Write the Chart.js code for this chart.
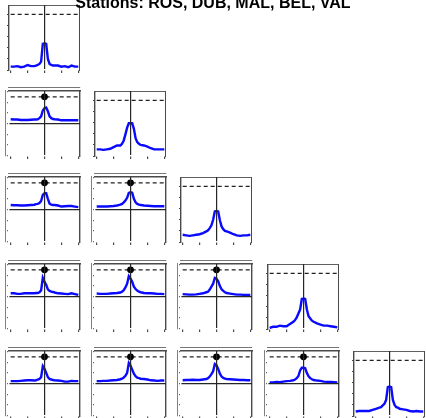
<!DOCTYPE html>
<html>
<head>
<meta charset="utf-8">
<script src="https://cdn.jsdelivr.net/npm/chart.js@4.4.1/dist/chart.umd.min.js"></script>
<style>
	html, body { margin: 0; padding: 0; background: #fff; overflow: hidden }
	#page { position: relative; width: 426px; height: 418px; overflow: hidden }
	#title { position: absolute; left: 0; top: -5.5px; width: 426px; text-align: center; white-space: nowrap;
		font: bold 16px/16px "Liberation Sans", Arial, sans-serif; color: #000; z-index: 5 }
	canvas { position: absolute }
</style>
</head>
<body>
<div id="page">
	<div id="title">Stations: ROS, DUB, MAL, BEL, VAL</div>
</div>
<script>
const stations = ['ROS', 'DUB', 'MAL', 'BEL', 'VAL']
const lags = [-20, -18, -16, -14, -12, -10, -8, -6, -5, -4, -3, -2, -1, 0, 1, 2, 3, 4, 5, 6, 8, 10, 12, 14, 16, 18, 20]
const lagTicks = [-20, -10, 0, 10, 20]
const autoTicks = [0, 0.2, 0.4, 0.6, 0.8, 1]
const crossTicks = [-1.2, -0.8, -0.4, 0, 0.4, 0.8, 1.2]
const refLevel = 1

// diagonal
const rosRos = [0.06, 0.06, 0.07, 0.05, 0.06, 0.09, 0.07, 0.07, 0.08, 0.09, 0.11, 0.15, 0.47, 0.48, 0.47, 0.20, 0.11, 0.09, 0.08, 0.08, 0.08, 0.06, 0.07, 0.05, 0.08, 0.06, 0.06]
const dubDub = [0.12, 0.12, 0.11, 0.12, 0.13, 0.16, 0.19, 0.19, 0.22, 0.28, 0.39, 0.51, 0.59, 0.59, 0.59, 0.49, 0.32, 0.25, 0.22, 0.20, 0.19, 0.17, 0.14, 0.12, 0.12, 0.12, 0.12]
const malMal = [0.13, 0.12, 0.11, 0.12, 0.13, 0.14, 0.16, 0.19, 0.21, 0.25, 0.30, 0.40, 0.55, 0.56, 0.55, 0.39, 0.28, 0.23, 0.20, 0.19, 0.17, 0.14, 0.12, 0.11, 0.12, 0.12, 0.13]
const belBel = [0.02, 0.04, 0.04, 0.06, 0.05, 0.05, 0.09, 0.13, 0.16, 0.21, 0.28, 0.35, 0.54, 0.55, 0.54, 0.35, 0.23, 0.19, 0.15, 0.13, 0.10, 0.08, 0.06, 0.06, 0.05, 0.04, 0.03]
const valVal = [0.08, 0.09, 0.09, 0.09, 0.09, 0.11, 0.13, 0.15, 0.16, 0.19, 0.22, 0.29, 0.52, 0.53, 0.52, 0.29, 0.20, 0.16, 0.15, 0.13, 0.12, 0.11, 0.09, 0.08, 0.09, 0.08, 0.08]

// off diagonal
const dubRos = [0.16, 0.15, 0.15, 0.13, 0.13, 0.13, 0.14, 0.15, 0.15, 0.16, 0.20, 0.27, 0.49, 0.57, 0.60, 0.46, 0.27, 0.20, 0.17, 0.16, 0.15, 0.12, 0.12, 0.12, 0.12, 0.12, 0.12]
const malRos = [0.17, 0.16, 0.16, 0.15, 0.15, 0.16, 0.17, 0.18, 0.20, 0.21, 0.24, 0.32, 0.55, 0.61, 0.61, 0.40, 0.22, 0.18, 0.17, 0.17, 0.15, 0.11, 0.12, 0.13, 0.13, 0.11, 0.09]
const malDub = [0.11, 0.11, 0.11, 0.11, 0.12, 0.13, 0.15, 0.18, 0.21, 0.27, 0.34, 0.44, 0.62, 0.65, 0.63, 0.40, 0.27, 0.21, 0.18, 0.17, 0.15, 0.14, 0.13, 0.12, 0.12, 0.12, 0.12]
const belRos = [0.12, 0.12, 0.10, 0.10, 0.12, 0.12, 0.12, 0.12, 0.13, 0.13, 0.16, 0.23, 0.70, 0.55, 0.44, 0.27, 0.21, 0.18, 0.17, 0.15, 0.12, 0.11, 0.10, 0.09, 0.12, 0.09, 0.06]
const belDub = [0.11, 0.10, 0.10, 0.10, 0.11, 0.12, 0.13, 0.15, 0.18, 0.24, 0.34, 0.48, 0.76, 0.67, 0.55, 0.37, 0.28, 0.22, 0.18, 0.16, 0.13, 0.12, 0.12, 0.11, 0.10, 0.10, 0.09]
const belMal = [0.09, 0.08, 0.07, 0.07, 0.08, 0.10, 0.12, 0.16, 0.18, 0.26, 0.37, 0.48, 0.70, 0.67, 0.57, 0.39, 0.27, 0.21, 0.16, 0.13, 0.11, 0.09, 0.07, 0.07, 0.06, 0.06, 0.06]
const valRos = [0.09, 0.09, 0.09, 0.10, 0.11, 0.12, 0.12, 0.11, 0.12, 0.15, 0.17, 0.24, 0.65, 0.55, 0.40, 0.24, 0.17, 0.15, 0.13, 0.12, 0.11, 0.10, 0.07, 0.07, 0.10, 0.09, 0.09]
const valDub = [0.09, 0.09, 0.10, 0.10, 0.11, 0.12, 0.13, 0.16, 0.18, 0.22, 0.29, 0.40, 0.77, 0.67, 0.52, 0.37, 0.27, 0.22, 0.20, 0.18, 0.17, 0.15, 0.12, 0.11, 0.10, 0.11, 0.11]
const valMal = [0.12, 0.13, 0.13, 0.14, 0.13, 0.13, 0.15, 0.17, 0.20, 0.26, 0.35, 0.46, 0.73, 0.68, 0.55, 0.37, 0.26, 0.21, 0.18, 0.17, 0.16, 0.15, 0.14, 0.13, 0.13, 0.12, 0.12]
const valBel = [0.04, 0.04, 0.06, 0.05, 0.07, 0.09, 0.10, 0.12, 0.15, 0.20, 0.28, 0.49, 0.59, 0.59, 0.57, 0.39, 0.27, 0.20, 0.16, 0.13, 0.11, 0.10, 0.07, 0.06, 0.06, 0.05, 0.04]

// panel grid, rows x cols
const grid = [
	[rosRos],
	[dubRos, dubDub],
	[malRos, malDub, malMal],
	[belRos, belDub, belMal, belBel],
	[valRos, valDub, valMal, valBel, valVal]
]

let colLeft = [9, 95, 181, 268, 354]
let rowTop = [5, 91, 177, 264, 351]
let frameW = 71, frameH = 65
let frame = '#4a4a4a'

let setTicks = list => axis => { axis.ticks = list.map(v => ({ value: v })) }

let cfg = (vals, diag) => {
	let curve = lags.map((l, i) => ({ x: l, y: vals[i] }))
	let ref = [{ x: lags[0], y: refLevel }, { x: lags[lags.length - 1], y: refLevel }]
	let sets = [
		{ data: curve, borderColor: '#0a0aff', borderWidth: 2.4, pointRadius: 0, order: 3 },
		{ data: ref, borderColor: '#222', borderWidth: 1.3, borderDash: [4, 3], pointRadius: 0, order: 2 }
	]
	if (!diag) sets.push({ data: [{ x: 0, y: refLevel }], showLine: false, pointRadius: 3.4,
		pointBackgroundColor: '#000', pointBorderWidth: 0, order: 1 })
	let zeroOnly = c => (c.tick && c.tick.value === 0) ? '#262626' : 'rgba(0,0,0,0)'
	return {
		type: 'line',
		data: { datasets: sets },
		options: {
			responsive: false,
			animation: false,
			events: [],
			layout: { padding: 0 },
			plugins: { legend: { display: false }, tooltip: { enabled: false } },
			scales: {
				x: {
					type: 'linear', position: 'bottom', min: -21, max: 21,
					afterBuildTicks: setTicks(lagTicks),
					ticks: { display: false },
					grid: { color: zeroOnly, tickColor: frame, tickLength: 3, lineWidth: 1.2, z: 1 },
					border: { display: true, color: frame, width: 1.4 }
				},
				x2: {
					type: 'linear', position: 'top', min: -21, max: 21,
					ticks: { display: false },
					grid: { drawOnChartArea: false, drawTicks: false },
					border: { display: true, color: frame, width: 1.4 }
				},
				y: {
					type: 'linear', position: 'left',
					min: diag ? 0 : -1.22, max: diag ? 1.17 : 1.22,
					afterBuildTicks: setTicks(diag ? autoTicks : crossTicks),
					ticks: { display: false },
					grid: diag
						? { drawOnChartArea: false, tickColor: '#444', tickLength: 2 }
						: { color: zeroOnly, tickColor: '#666', tickLength: 2, lineWidth: 1.2, z: 1 },
					border: { display: true, color: frame, width: 1.4 }
				},
				y2: {
					type: 'linear', position: 'right', min: 0, max: 1,
					ticks: { display: false },
					grid: { drawOnChartArea: false, drawTicks: false },
					border: { display: true, color: frame, width: 1.4 }
				}
			}
		}
	}
}

let place = (vals, row, col) => {
	let diag = row === col
	let cv = document.createElement('canvas')
	document.getElementById('page').appendChild(cv)
	cv.width = frameW + 20
	cv.height = frameH + 20
	let ch = new Chart(cv, cfg(vals, diag))
	let a = ch.chartArea
	let w = cv.width + frameW - (a.right - a.left)
	let h = cv.height + frameH - (a.bottom - a.top)
	ch.destroy()
	cv.width = w
	cv.height = h
	ch = new Chart(cv, cfg(vals, diag))
	a = ch.chartArea
	cv.style.left = (colLeft[col] - a.left) + 'px'
	cv.style.top = (rowTop[row] - a.top) + 'px'
}

grid.forEach((r, i) => r.forEach((vals, j) => place(vals, i, j)))
</script>
</body>
</html>
